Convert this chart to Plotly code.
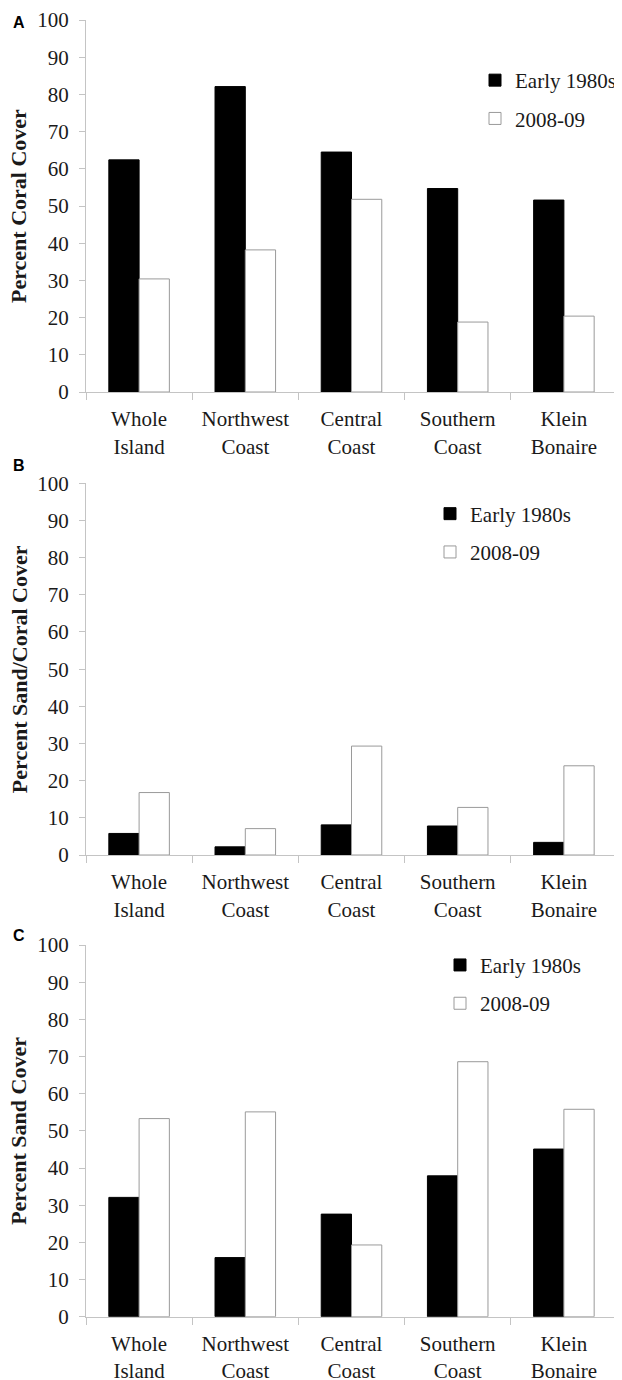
import plotly.graph_objects as go

categories = ["Whole<br>Island", "Northwest<br>Coast", "Central<br>Coast", "Southern<br>Coast", "Klein<br>Bonaire"]
series_names = ["Early 1980s", "2008-09"]

coral_early = [62.4, 82.1, 64.5, 54.7, 51.6]
coral_recent = [30.4, 38.2, 51.8, 18.8, 20.4]

sandcoral_early = [5.8, 2.2, 8.1, 7.8, 3.4]
sandcoral_recent = [16.8, 7.1, 29.3, 12.8, 24.0]

sand_early = [32.1, 15.9, 27.6, 37.9, 45.1]
sand_recent = [53.3, 55.1, 19.3, 68.6, 55.8]

panel_titles = ["Percent Coral Cover", "Percent Sand/Coral Cover", "Percent Sand Cover"]
panel_letters = ["A", "B", "C"]
y_ticks = [0, 10, 20, 30, 40, 50, 60, 70, 80, 90, 100]

# the page body adds an 8px margin, so the figure is 8px smaller and all
# positions below are in figure pixels (reference pixels minus 8)
OFF = 8
W, H = 622 - OFF, 1380 - OFF
SERIF = "Liberation Serif"
AXIS_GREY = "#c4c4c4"
OUTLINE_GREY = "#9a9a9a"
TEXT = "#1a1a1a"

panels_ref = [(20, 392), (483.3, 855), (945, 1316.7)]
x_ref = (86, 617)
legend_ref = [(475, 60), (430, 493.5), (440, 944.8)]
letter_ref_y = [22, 466, 936]

panel_data = [
    (coral_early, coral_recent),
    (sandcoral_early, sandcoral_recent),
    (sand_early, sand_recent),
]

fig = go.Figure()
layout = dict(
    template="none",
    width=W, height=H,
    margin=dict(l=0, r=0, t=0, b=0, pad=0, autoexpand=False),
    paper_bgcolor="white", plot_bgcolor="white",
    bargap=0.43, bargroupgap=0.0, barmode="group",
    font=dict(family=SERIF, size=21, color=TEXT),
    annotations=[],
)

for i, (early, recent) in enumerate(panel_data):
    n = "" if i == 0 else str(i + 1)
    xa, ya = "x" + n, "y" + n
    leg = "legend" + n
    fig.add_trace(go.Bar(
        x=categories, y=early, name=series_names[0], xaxis=xa, yaxis=ya,
        marker=dict(color="black", line=dict(color="black", width=1)),
        legend=leg, legendgroup=f"e{i}", hoverinfo="y",
    ))
    fig.add_trace(go.Bar(
        x=categories, y=recent, name=series_names[1], xaxis=xa, yaxis=ya,
        marker=dict(color="white", line=dict(color=OUTLINE_GREY, width=1)),
        legend=leg, legendgroup=f"r{i}", hoverinfo="y",
    ))
    top, bot = (v - OFF for v in panels_ref[i])
    layout["xaxis" + n] = dict(
        domain=[(x_ref[0] - OFF) / W, (x_ref[1] - OFF) / W], anchor=ya, automargin=False,
        showline=True, linecolor=AXIS_GREY, linewidth=1,
        ticks="outside", tickson="boundaries", ticklen=7, tickcolor=AXIS_GREY,
        tickfont=dict(family=SERIF, size=21, color=TEXT),
        ticklabelstandoff=8, showgrid=False, zeroline=False,
    )
    layout["yaxis" + n] = dict(
        domain=[1 - bot / H, 1 - top / H], anchor=xa, automargin=False,
        range=[0, 100], tickvals=y_ticks, ticktext=[str(v) for v in y_ticks],
        showline=True, linecolor=AXIS_GREY, linewidth=1,
        ticks="outside", ticklen=6, tickcolor=AXIS_GREY,
        tickfont=dict(family=SERIF, size=21, color=TEXT),
        ticklabelstandoff=6, showgrid=False, zeroline=False,
    )
    lx, ly = (v - OFF for v in legend_ref[i])
    layout[leg] = dict(
        x=lx / W, y=1 - ly / H, xanchor="left", yanchor="top",
        font=dict(family=SERIF, size=21, color=TEXT),
        bgcolor="rgba(0,0,0,0)", borderwidth=0,
        tracegroupgap=8, traceorder="grouped",
    )
    layout["annotations"].append(dict(
        text=panel_titles[i], xref="paper", yref="paper",
        x=(19 - OFF) / W, y=1 - (top + bot) / 2 / H, textangle=-90,
        showarrow=False, xanchor="center", yanchor="middle",
        font=dict(family=SERIF, size=22, color=TEXT, weight="bold"),
    ))
    layout["annotations"].append(dict(
        text="<b>" + panel_letters[i] + "</b>", xref="paper", yref="paper",
        x=(18.5 - OFF) / W, y=1 - (letter_ref_y[i] - OFF) / H, showarrow=False,
        xanchor="center", yanchor="middle",
        font=dict(family="Liberation Sans", size=16, color="black"),
    ))

fig.update_layout(**layout)
fig.write_html("out.html")
